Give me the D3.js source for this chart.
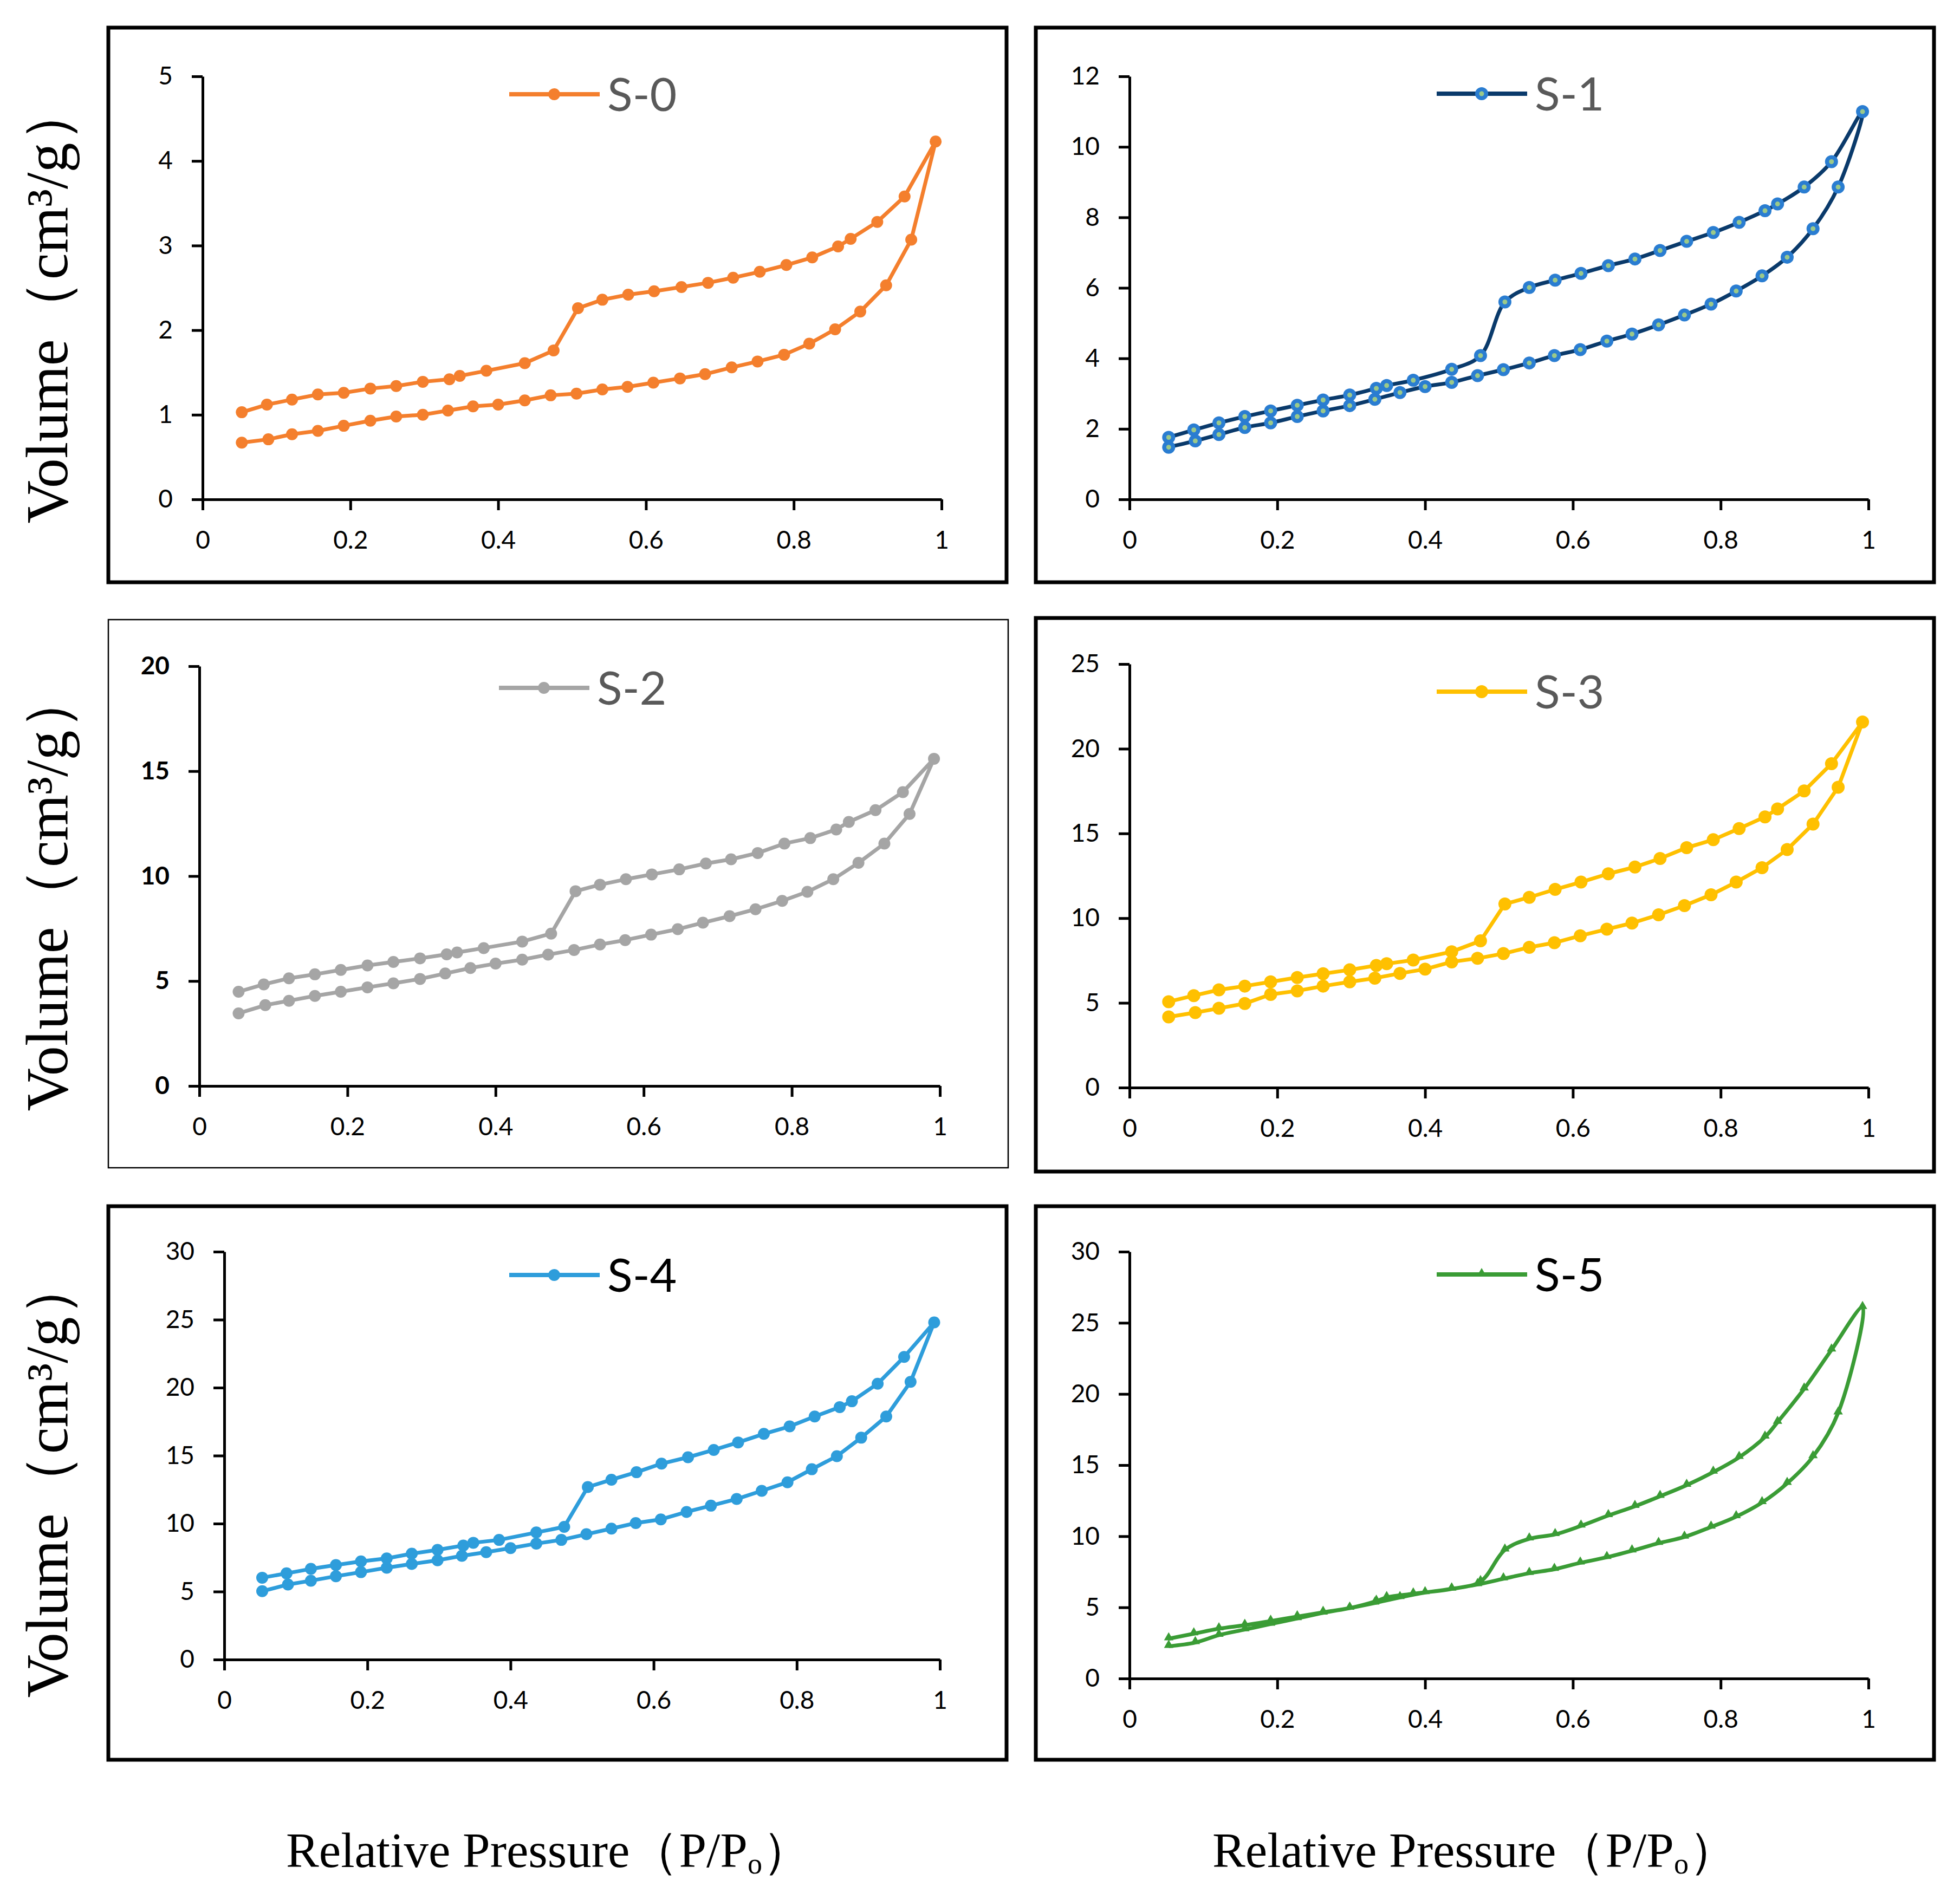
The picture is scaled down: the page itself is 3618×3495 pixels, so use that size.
<!DOCTYPE html>
<html>
<head>
<meta charset="UTF-8">
<script src="https://d3js.org/d3.v7.min.js"></script>
<style>
  body { margin: 0; background: #fff; }
  svg { display: block; }
</style>
</head>
<body>
<div id="chart"></div>
<script>
// ---- data ----
var samples = ["S-0", "S-1", "S-2", "S-3", "S-4", "S-5"];
var colors = ["#F47F2D", "#0A3A6B", "#A5A5A5", "#FFC000", "#2E9DDB", "#3A9C35"];
var yMaxes = [5, 12, 20, 25, 30, 30];
var ySteps = [1, 2, 5, 5, 5, 5];
var xTickVals = [0, 0.2, 0.4, 0.6, 0.8, 1];

// relative pressure, adsorption (up) and desorption (down) branches
var adsX = [0.053, 0.089, 0.121, 0.156, 0.191, 0.227, 0.262, 0.298, 0.332, 0.366, 0.400, 0.436, 0.471, 0.506,
            0.541, 0.575, 0.610, 0.646, 0.680, 0.716, 0.751, 0.787, 0.821, 0.856, 0.890, 0.925, 0.959, 0.992];
var desX = [0.950, 0.913, 0.877, 0.860, 0.825, 0.790, 0.754, 0.718, 0.684, 0.648, 0.611, 0.576, 0.541, 0.508,
            0.475, 0.436, 0.384, 0.348, 0.334, 0.298, 0.262, 0.227, 0.191, 0.156, 0.121, 0.087, 0.053];

var adsS0 = [0.67, 0.71, 0.77, 0.81, 0.87, 0.93, 0.98, 1.00, 1.05, 1.10, 1.12, 1.17, 1.23, 1.25,
             1.30, 1.33, 1.38, 1.43, 1.48, 1.56, 1.63, 1.71, 1.84, 2.01, 2.22, 2.53, 3.07, 4.23];
var desS0 = [3.58, 3.28, 3.08, 2.99, 2.86, 2.77, 2.69, 2.62, 2.56, 2.51, 2.46, 2.42, 2.36, 2.26,
             1.76, 1.61, 1.52, 1.46, 1.42, 1.39, 1.34, 1.31, 1.26, 1.24, 1.18, 1.12, 1.03];

var adsS1 = [1.48, 1.66, 1.84, 2.04, 2.17, 2.35, 2.51, 2.66, 2.84, 3.03, 3.20, 3.32, 3.51, 3.68,
             3.87, 4.08, 4.25, 4.49, 4.69, 4.95, 5.23, 5.54, 5.91, 6.34, 6.87, 7.68, 8.86, 11.0];
var desS1 = [9.58, 8.86, 8.38, 8.19, 7.86, 7.57, 7.32, 7.06, 6.82, 6.63, 6.41, 6.22, 6.01, 5.60,
             4.08, 3.69, 3.38, 3.23, 3.15, 2.96, 2.82, 2.67, 2.51, 2.35, 2.17, 1.97, 1.76];

var adsS2 = [3.46, 3.85, 4.06, 4.29, 4.49, 4.70, 4.89, 5.10, 5.36, 5.62, 5.83, 6.02, 6.26, 6.48,
             6.74, 6.95, 7.21, 7.47, 7.78, 8.09, 8.42, 8.82, 9.25, 9.85, 10.63, 11.55, 12.96, 15.59];
var desS2 = [14.0, 13.14, 12.58, 12.22, 11.81, 11.55, 11.10, 10.80, 10.60, 10.32, 10.08, 9.85, 9.59, 9.28,
             7.26, 6.88, 6.57, 6.36, 6.27, 6.08, 5.91, 5.74, 5.53, 5.32, 5.13, 4.84, 4.49];

var adsS3 = [4.17, 4.43, 4.68, 4.96, 5.50, 5.71, 5.99, 6.24, 6.46, 6.74, 6.99, 7.42, 7.63, 7.91,
             8.28, 8.55, 8.96, 9.35, 9.71, 10.20, 10.74, 11.38, 12.13, 12.98, 14.05, 15.55, 17.73, 21.58];
var desS3 = [19.12, 17.51, 16.45, 15.98, 15.29, 14.63, 14.16, 13.52, 13.02, 12.62, 12.13, 11.70, 11.23, 10.84,
             8.66, 8.02, 7.53, 7.31, 7.21, 6.95, 6.72, 6.50, 6.24, 5.99, 5.77, 5.43, 5.07];

var adsS4 = [5.03, 5.52, 5.80, 6.13, 6.43, 6.75, 7.03, 7.30, 7.63, 7.90, 8.20, 8.53, 8.80, 9.22,
             9.63, 10.04, 10.31, 10.86, 11.32, 11.81, 12.41, 13.04, 14.00, 14.96, 16.32, 17.88, 20.43, 24.80];
var desS4 = [22.26, 20.29, 19.00, 18.57, 17.88, 17.15, 16.60, 15.97, 15.42, 14.88, 14.41, 13.78, 13.23, 12.69,
             9.76, 9.35, 8.80, 8.59, 8.39, 8.07, 7.79, 7.44, 7.22, 6.95, 6.67, 6.34, 6.02];

var adsS5 = [2.27, 2.53, 3.05, 3.44, 3.83, 4.22, 4.61, 4.95, 5.31, 5.70, 6.04, 6.30, 6.61, 7.01,
             7.40, 7.68, 8.13, 8.52, 8.98, 9.51, 9.95, 10.65, 11.38, 12.37, 13.72, 15.60, 18.67, 26.09];
var desS5 = [23.10, 20.36, 18.02, 16.98, 15.55, 14.51, 13.59, 12.81, 12.11, 11.46, 10.73, 10.13, 9.82, 9.04,
             6.82, 6.30, 5.96, 5.70, 5.44, 4.95, 4.66, 4.35, 4.04, 3.75, 3.50, 3.15, 2.80];

var adsList = [adsS0, adsS1, adsS2, adsS3, adsS4, adsS5];
var desList = [desS0, desS1, desS2, desS3, desS4, desS5];

// ---- layout (pixels) ----
var width = 3618, height = 3495;
var panels = [
    {box: [200, 51, 1858, 1075],   plot: [374, 141, 1738, 922],    legend: [940, 174],   border: 7,   legendColor: "#595959"},
    {box: [1912, 51, 3570, 1075],  plot: [2085, 141, 3449, 922],   legend: [2652, 173],  border: 7,   legendColor: "#595959"},
    {box: [200, 1144, 1861, 2156], plot: [368, 1230, 1735, 2005],  legend: [921, 1270],  border: 2.5, legendColor: "#595959", boldY: true},
    {box: [1912, 1141, 3570, 2163],plot: [2085, 1226, 3449, 2008], legend: [2652, 1277], border: 7,   legendColor: "#595959"},
    {box: [200, 2227, 1858, 3249], plot: [414, 2311, 1735, 3064],  legend: [940, 2354],  border: 7,   legendColor: "#000"},
    {box: [1912, 2227, 3570, 3249],plot: [2085, 2311, 3449, 3099], legend: [2652, 2353], border: 7,   legendColor: "#000"}
];
var smooth = [false, true, false, false, false, true];

var svg = d3.select("#chart").append("svg")
    .attr("width", width)
    .attr("height", height);

svg.append("rect").attr("width", width).attr("height", height).attr("fill", "#fff");

panels.forEach(function(p, i) {
    var g = svg.append("g");

    g.append("rect")
        .attr("x", p.box[0]).attr("y", p.box[1])
        .attr("width", p.box[2] - p.box[0]).attr("height", p.box[3] - p.box[1])
        .attr("fill", "none").attr("stroke", "#000").attr("stroke-width", p.border);

    var xscale = d3.scaleLinear().domain([0, 1]).range([p.plot[0], p.plot[2]]);
    var yscale = d3.scaleLinear().domain([0, yMaxes[i]]).range([p.plot[3], p.plot[1]]);

    var xaxis = d3.axisBottom(xscale).tickValues(xTickVals).tickFormat(d3.format(""))
        .tickSize(20).tickSizeOuter(0).tickPadding(38);
    var yaxis = d3.axisLeft(yscale).tickValues(d3.range(0, yMaxes[i] + 0.001, ySteps[i]))
        .tickFormat(d3.format("")).tickSize(20).tickSizeOuter(0).tickPadding(35);

    var gx = g.append("g").attr("transform", "translate(0," + p.plot[3] + ")").call(xaxis);
    var gy = g.append("g").attr("transform", "translate(" + p.plot[0] + ",0)").call(yaxis);

    [gx, gy].forEach(function(a) {
        a.select(".domain").attr("stroke", "#000").attr("stroke-width", 5);
        a.selectAll(".tick line").attr("stroke", "#000").attr("stroke-width", 5);
        a.selectAll(".tick text")
            .attr("fill", "#000")
            .style("font-family", "Lato, 'Open Sans', sans-serif")
            .style("font-size", "46px");
    });
    if (p.boldY) gy.selectAll(".tick text").style("font-weight", "bold");

    // one series: adsorption branch then desorption branch back down
    var pts = adsX.map(function(x, k) { return [x, adsList[i][k]]; })
        .concat(desX.map(function(x, k) { return [x, desList[i][k]]; }));

    var lineGenerator = d3.line()
        .x(function(d) { return xscale(d[0]); })
        .y(function(d) { return yscale(d[1]); })
        .curve(smooth[i] ? d3.curveCatmullRom.alpha(0.5) : d3.curveLinear);

    g.append("path")
        .datum(pts)
        .attr("d", lineGenerator)
        .attr("fill", "none")
        .attr("stroke", colors[i])
        .attr("stroke-width", 7)
        .attr("stroke-linejoin", "round");

    drawMarkers(g, pts.map(function(d) { return [xscale(d[0]), yscale(d[1])]; }), i);

    // legend
    var lx = p.legend[0], ly = p.legend[1];
    g.append("line")
        .attr("x1", lx).attr("x2", lx + 167).attr("y1", ly).attr("y2", ly)
        .attr("stroke", colors[i]).attr("stroke-width", 8);
    drawMarkers(g, [[lx + 83, ly]], i);
    g.append("text")
        .attr("x", lx + 181).attr("y", ly + 31)
        .attr("fill", p.legendColor)
        .style("font-family", "Lato, 'Open Sans', sans-serif")
        .style("font-size", "86px")
        .text(samples[i]);
});

function drawMarkers(g, xy, i) {
    if (i === 5) {
        g.selectAll(null).data(xy).enter().append("path")
            .attr("transform", function(d) { return "translate(" + d[0] + "," + (d[1] - 2) + ")"; })
            .attr("d", d3.symbol().type(d3.symbolTriangle).size(130))
            .attr("fill", colors[i]);
    } else if (i === 1) {
        g.selectAll(null).data(xy).enter().append("circle")
            .attr("cx", function(d) { return d[0]; }).attr("cy", function(d) { return d[1]; })
            .attr("r", 12).attr("fill", "#2A7DD1");
        g.selectAll(null).data(xy).enter().append("circle")
            .attr("cx", function(d) { return d[0]; }).attr("cy", function(d) { return d[1]; })
            .attr("r", 4.5).attr("fill", "#9BC98A");
    } else {
        g.selectAll(null).data(xy).enter().append("circle")
            .attr("cx", function(d) { return d[0]; }).attr("cy", function(d) { return d[1]; })
            .attr("r", i === 3 ? 12 : 11).attr("fill", colors[i]);
    }
}

// shared axis titles
var yLabelRows = [560, 1645, 2728];
yLabelRows.forEach(function(cy) {
    svg.append("text")
        .attr("transform", "translate(124," + cy + ") rotate(-90)")
        .attr("text-anchor", "middle")
        .attr("fill", "#000")
        .style("font-family", "'Liberation Serif', 'Times New Roman', serif")
        .style("font-size", "110px")
        .text("Volume（cm³/g）");
});

var xLabelCols = [1013, 2723];
xLabelCols.forEach(function(cx) {
    var t = svg.append("text")
        .attr("x", cx).attr("y", 3447)
        .attr("text-anchor", "middle")
        .attr("fill", "#000")
        .style("font-family", "'Liberation Serif', 'Times New Roman', serif")
        .style("font-size", "91px");
    t.append("tspan").text("Relative Pressure（P/P");
    t.append("tspan").attr("dy", 12).style("font-size", "54px").text("o");
    t.append("tspan").attr("dy", -12).text("）");
});
</script>
</body>
</html>
